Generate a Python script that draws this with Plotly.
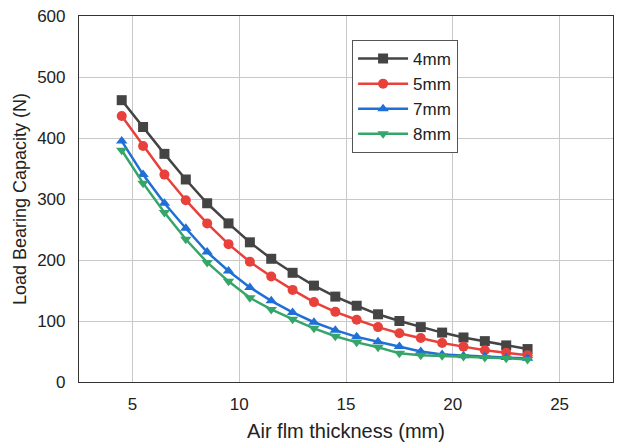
import plotly.graph_objects as go

thickness = [4.5, 5.5, 6.5, 7.5, 8.5, 9.5, 10.5, 11.5, 12.5, 13.5,
             14.5, 15.5, 16.5, 17.5, 18.5, 19.5, 20.5, 21.5, 22.5, 23.5]

load_4mm = [462, 418, 374, 332, 293, 260, 229, 202, 179, 158,
            140, 125, 111, 100, 90, 81, 73, 67, 60, 54]
load_5mm = [436, 387, 340, 298, 260, 226, 197, 173, 151, 131,
            115, 102, 90, 80, 72, 64, 58, 52, 48, 44]
load_7mm = [395, 340, 293, 252, 213, 182, 155, 133, 114, 98,
            85, 74, 66, 58, 50, 45, 43, 42, 40, 39]
load_8mm = [380, 326, 278, 234, 196, 165, 138, 119, 103, 88,
            75, 65, 57, 47, 44, 43, 42, 40, 39, 37]

series = [
    ("4mm", load_4mm, "#444444", "square"),
    ("5mm", load_5mm, "#e8403a", "circle"),
    ("7mm", load_7mm, "#1f6fd6", "triangle-up"),
    ("8mm", load_8mm, "#36a56a", "triangle-down"),
]

x_ticks = [5, 10, 15, 20, 25]
y_ticks = [0, 100, 200, 300, 400, 500, 600]

fig = go.Figure()
for name, vals, color, sym in series:
    fig.add_trace(go.Scatter(
        x=thickness, y=vals, name=name, mode="lines+markers",
        line=dict(color=color, width=2.5),
        marker=dict(symbol=sym, size=10, color=color),
    ))

axis_common = dict(
    showgrid=True, gridcolor="#c8c8c8", gridwidth=1.2,
    showline=True, linecolor="#333333", linewidth=1.2, mirror=True,
    zeroline=False, ticks="", automargin=False, ticklabeloverflow="allow",
    tickfont=dict(size=17, color="#222222"),
)

fig.update_layout(
    width=618, height=437,
    margin=dict(l=71, r=13, t=8, b=63),
    paper_bgcolor="white", plot_bgcolor="white",
    font=dict(family="Liberation Sans, Arial, sans-serif", color="#222222"),
    xaxis=dict(range=[2.5, 27.5], tickvals=x_ticks, ticklabelstandoff=6,
               title=dict(text="Air flm thickness (mm)", font=dict(size=20), standoff=11),
               **axis_common),
    yaxis=dict(range=[0, 600], tickvals=y_ticks, ticklabelstandoff=9,
               title=dict(text="Load Bearing Capacity (N)", font=dict(size=18), standoff=5),
               **axis_common),
    legend=dict(x=0.511, y=0.935, xanchor="left", yanchor="top",
                bgcolor="white", bordercolor="#555555", borderwidth=1.2,
                font=dict(size=17, color="#222222"), itemwidth=50,
                tracegroupgap=0),
    showlegend=True,
)

fig.write_html("out.html")
